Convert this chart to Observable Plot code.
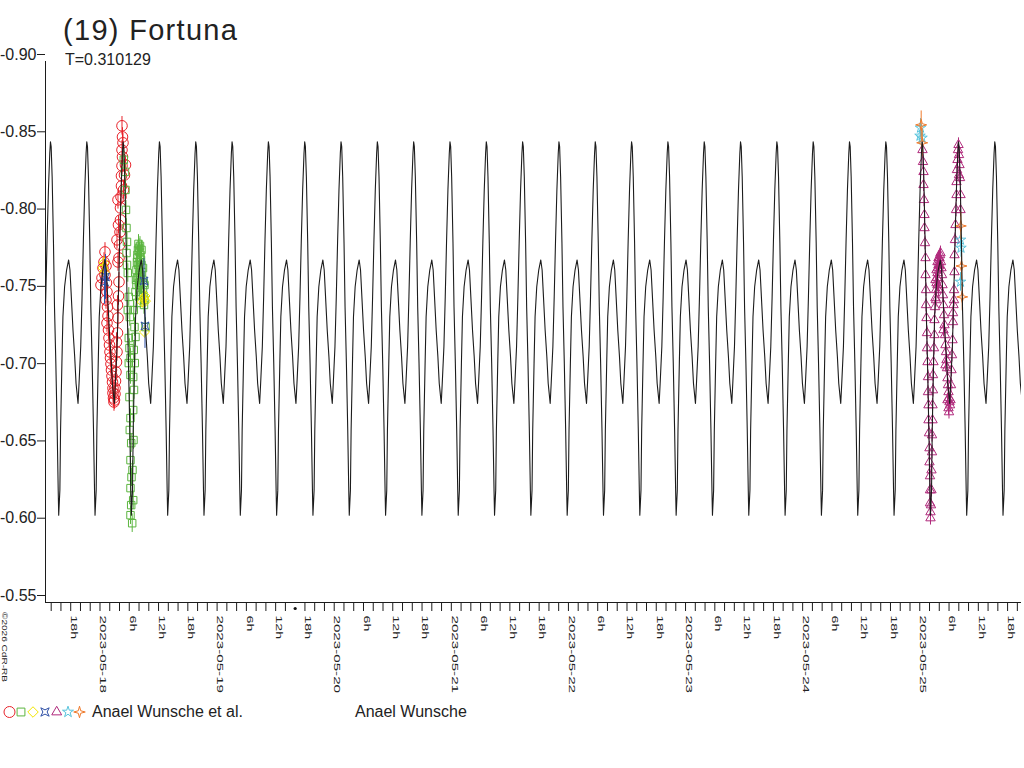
<!DOCTYPE html>
<html>
<head>
<meta charset="utf-8">
<script src="https://cdn.jsdelivr.net/npm/d3@7"></script>
<script src="https://cdn.jsdelivr.net/npm/@observablehq/plot@0.6"></script>
<style>
  body { margin: 0; background: #fff; }
  #chart { position: relative; width: 1024px; height: 768px; overflow: hidden; }
</style>
</head>
<body>
<div id="chart"></div>
<script>
// ---------------- data ----------------
const title = "(19) Fortuna";
const subtitle = "T=0.310129";
const periodDays = 0.310129;
const epochMax = "2023-05-20T23:43:30Z";     // a main maximum of the model curve
const timeOrigin = "2023-05-18T00:00:00Z";   // observation times are hours after this
const xStart = "2023-05-17T12:50:00Z";
const xEnd = "2023-05-25T20:51:00Z";
const yTicks = [-0.90, -0.85, -0.80, -0.75, -0.70, -0.65, -0.60, -0.55];
const markerTime = "2023-05-19T16:00:00Z";
const legendLabel1 = "Anael Wunsche et al.";
const legendLabel2 = "Anael Wunsche";
const copyright = "©2026 CdR-RB";

// one rotation period of the model light curve (phase 0 = main maximum)
const modelPhase = [0, 0.019, 0.046, 0.083, 0.111, 0.148, 0.185, 0.213, 0.227, 0.259, 0.278, 0.315, 0.343, 0.389,
  0.444, 0.5, 0.537, 0.574, 0.62, 0.667, 0.704, 0.759, 0.787, 0.833, 0.87, 0.907, 0.944, 0.981];
const modelMag = [-0.848, -0.845, -0.8256, -0.7824, -0.7414, -0.7047, -0.6616, -0.6227, -0.6065, -0.6227, -0.6616,
  -0.7047, -0.7349, -0.7543, -0.7651, -0.7716, -0.7651, -0.7479, -0.7263, -0.709, -0.6918, -0.6788, -0.6918,
  -0.7155, -0.7479, -0.7848, -0.8172, -0.8407];

// observations: [hours after timeOrigin, relative magnitude]
const obsRed = [[0.205,-0.7554],[0.410,-0.7600],[0.615,-0.7664],[0.820,-0.7703],[1.025,-0.7768],[1.230,-0.7677],
  [1.025,-0.7619],[1.332,-0.7567],[1.435,-0.7509],[1.230,-0.7457],[1.537,-0.7412],[1.640,-0.7354],[1.435,-0.7308],
  [1.742,-0.7263],[1.844,-0.7211],[1.947,-0.7166],[2.049,-0.7121],[2.152,-0.7082],[2.254,-0.7043],[2.357,-0.7004],
  [2.459,-0.6965],[2.562,-0.6926],[2.664,-0.6887],[2.664,-0.6855],[2.767,-0.6823],[2.869,-0.6797],[2.972,-0.6810],
  [3.074,-0.6849],[3.074,-0.6887],[3.177,-0.6933],[3.279,-0.6991],[3.382,-0.7056],[3.484,-0.7121],[3.382,-0.7185],
  [3.586,-0.7244],[3.689,-0.7341],[3.586,-0.7425],[3.791,-0.7483],[3.894,-0.7574],[3.689,-0.7703],[3.894,-0.7729],
  [3.996,-0.7813],[4.099,-0.7897],[4.201,-0.7975],[4.201,-0.8053],[4.304,-0.8124],[4.406,-0.8195],[4.406,-0.8260],
  [4.509,-0.8325],[4.611,-0.8383],[4.509,-0.8428],[4.713,-0.8474],[4.611,-0.8512],[4.509,-0.8584],
  [3.689,-0.8105],[4.816,-0.8169],[3.791,-0.7943],[5.021,-0.8266],[3.484,-0.7846],[5.226,-0.8331]];
const obsGreen = [[4.878,-0.8364],[5.124,-0.8286],[5.226,-0.8169],[5.328,-0.8040],[5.431,-0.7923],[5.533,-0.7833],
  [5.431,-0.7761],[5.533,-0.7684],[5.697,-0.7632],[5.902,-0.7477],[5.697,-0.7392],[6.107,-0.7347],[5.902,-0.7211],
  [6.046,-0.7146],[6.251,-0.7082],[5.902,-0.7049],[6.251,-0.6972],[6.046,-0.6829],[6.251,-0.6693],[6.107,-0.6616],
  [6.394,-0.6531],[6.251,-0.6421],[6.456,-0.6311],[6.251,-0.6240],[6.394,-0.6130],[6.251,-0.6065],[6.599,-0.6013],
  [6.804,-0.6162],[6.661,-0.6357],[6.865,-0.6551],[6.804,-0.6745],[6.968,-0.6875],[6.804,-0.6959],[7.132,-0.7049],
  [6.927,-0.7134],[7.275,-0.7218],[7.070,-0.7282],[6.927,-0.7392],[7.275,-0.7509],
  [7.378,-0.7587],[7.480,-0.7651],[7.583,-0.7703],[7.685,-0.7749],[7.788,-0.7781],[7.890,-0.7820],[7.993,-0.7794],
  [8.095,-0.7768],[8.198,-0.7807],[8.300,-0.7749],[8.403,-0.7716],[8.505,-0.7684],[8.095,-0.7703],[7.788,-0.7684],
  [8.607,-0.7638],[8.710,-0.7587],[8.812,-0.7522],[8.915,-0.7483],[8.300,-0.7619],[7.890,-0.7600],[9.017,-0.7425],
  [9.120,-0.7457],[7.480,-0.7554],[8.505,-0.7489],[9.325,-0.7282],[7.952,-0.7567],[8.976,-0.7567],[7.624,-0.7438],
  [7.685,-0.7729],[8.198,-0.7729],[8.505,-0.7781],[8.812,-0.7664],[9.120,-0.7554],[8.300,-0.7554],[7.993,-0.7651],
  [7.583,-0.7600]];
const obsYellow = [[0.820,-0.7697],[0.615,-0.7664],[0.922,-0.7638],
  [8.976,-0.7470],[8.648,-0.7444],[9.325,-0.7450],[9.120,-0.7250],[9.222,-0.7483]];
const obsBlue = [[1.127,-0.7606],[0.922,-0.7574],[9.017,-0.7580],[9.222,-0.7289]];
const obsMagenta = [[168.56,-0.8428],[168.66,-0.8351],[168.77,-0.8286],[168.77,-0.8202],[168.87,-0.8105],
  [168.97,-0.8008],[168.97,-0.7923],[169.07,-0.7826],[169.18,-0.7729],[169.18,-0.7619],[169.28,-0.7522],
  [169.28,-0.7425],[169.38,-0.7341],[169.48,-0.7244],[169.48,-0.7146],[169.59,-0.7056],[169.69,-0.6959],
  [169.69,-0.6862],[169.79,-0.6777],[169.79,-0.6680],[169.89,-0.6596],[169.99,-0.6499],[169.99,-0.6408],
  [170.10,-0.6318],[170.10,-0.6227],[170.10,-0.6143],[170.20,-0.6085],[170.20,-0.6046],
  [170.30,-0.6130],[170.40,-0.6227],[170.40,-0.6356],[170.51,-0.6473],[170.51,-0.6583],[170.61,-0.6680],
  [170.61,-0.6777],[170.71,-0.6874],[170.71,-0.6972],[170.81,-0.7056],[170.92,-0.7146],[171.02,-0.7231],
  [171.02,-0.7328],[171.12,-0.7412],[171.22,-0.7470],[171.33,-0.7522],[171.43,-0.7567],[171.53,-0.7600],
  [171.63,-0.7632],[171.74,-0.7664],[171.84,-0.7684],[171.94,-0.7703],[172.04,-0.7729],[172.15,-0.7748],
  [172.25,-0.7761],[171.22,-0.7587],[171.43,-0.7651],[171.63,-0.7703],[171.84,-0.7729],[172.04,-0.7677],
  [172.35,-0.7703],[171.63,-0.7554],[171.33,-0.7457],[171.84,-0.7522],
  [172.45,-0.7664],[172.56,-0.7619],[172.66,-0.7554],[172.76,-0.7489],[172.86,-0.7425],[172.97,-0.7360],
  [173.07,-0.7295],[173.17,-0.7231],[173.27,-0.7166],[173.38,-0.7121],[173.48,-0.7069],[173.58,-0.7017],
  [173.68,-0.6952],[173.79,-0.6907],[173.89,-0.6862],[173.99,-0.6823],[174.09,-0.6797],[174.20,-0.6777],
  [173.89,-0.6758],[174.30,-0.6810],[172.86,-0.7263],[173.27,-0.7036],[173.68,-0.6810],[173.99,-0.6732],
  [174.40,-0.6907],[174.50,-0.7004],[174.61,-0.7101],[174.71,-0.7198],[174.81,-0.7315],[174.91,-0.7425],
  [175.02,-0.7522],[175.12,-0.7638],[175.12,-0.7748],[175.22,-0.7846],[175.32,-0.7943],[175.43,-0.8040],
  [175.53,-0.8137],[175.53,-0.8221],[175.63,-0.8299],[175.73,-0.8364],[175.84,-0.8428],[175.94,-0.8461],
  [174.81,-0.7373],[175.02,-0.7457],
  [176.04,-0.8396],[176.14,-0.8331],[176.25,-0.8247],[176.35,-0.8137],[176.35,-0.8040],[176.04,-0.8266]];
const obsCyan = [[168.15,-0.8571],[168.05,-0.8519],[168.46,-0.8506],[176.35,-0.7846],[176.45,-0.7794],[176.35,-0.7574]];
const obsOrange = [[168.29,-0.8590],[168.50,-0.8474],[176.41,-0.7936],[176.55,-0.7677],[176.70,-0.7477]];
// typical error bar (mag) for each series
const errRed = 0.006, errGreen = 0.006, errYellow = 0.004, errBlue = 0.0145,
      errMagenta = 0.0045, errCyan = 0.006, errOrange = 0.009;

// ---------------- symbols ----------------
const star4 = { draw(ctx, size) {
  const R = Math.sqrt(size / Math.PI), q = R * 0.3 * Math.SQRT1_2;
  ctx.moveTo(0, -R); ctx.lineTo(q, -q); ctx.lineTo(R, 0); ctx.lineTo(q, q);
  ctx.lineTo(0, R); ctx.lineTo(-q, q); ctx.lineTo(-R, 0); ctx.lineTo(-q, -q); ctx.closePath();
}};
const bowtie = { draw(ctx, size) {
  const h = Math.sqrt(size / Math.PI) * 0.8, i = h * 0.5;
  ctx.moveTo(-h, -h); ctx.lineTo(0, -i); ctx.lineTo(h, -h); ctx.lineTo(i, 0);
  ctx.lineTo(h, h); ctx.lineTo(0, i); ctx.lineTo(-h, h); ctx.lineTo(-i, 0); ctx.closePath();
}};

const seriesStyle = [
  {data: obsRed, err: errRed, color: "#e8232b", symbol: "circle", r: 5.3},
  {data: obsGreen, err: errGreen, color: "#5bb53f", symbol: "square", r: 4.2},
  {data: obsYellow, err: errYellow, color: "#f2e600", symbol: "diamond2", r: 4.5},
  {data: obsBlue, err: errBlue, color: "#2d4fa6", symbol: bowtie, r: 5},
  {data: obsMagenta, err: errMagenta, color: "#b02a7c", symbol: "triangle", r: 3.5},
  {data: obsCyan, err: errCyan, color: "#56c3dc", symbol: "star", r: 3.3},
  {data: obsOrange, err: errOrange, color: "#ef7a2b", symbol: star4, r: 5.5}
];

// ---------------- build ----------------
const t0 = new Date(timeOrigin).getTime();
const toRows = (arr, err) => arr.map(([h, v]) => ({t: new Date(t0 + h * 3600000), v, err}));

const ep = new Date(epochMax).getTime();
const dMin = new Date(xStart), dMax = new Date(xEnd);
const model = [];
for (let k = -13; k <= 17; k++) {
  modelPhase.forEach((p, i) => model.push({t: new Date(ep + (k + p) * periodDays * 86400000), v: modelMag[i]}));
}

const excluded = new Date(markerTime).getTime();
const minorTicks = d3.utcHour.every(2).range(dMin, dMax).filter(d => d.getTime() !== excluded);
const labelTicks = d3.utcHour.every(6).range(dMin, dMax);
const fmtX = d => d.getUTCHours() === 0 ? d3.utcFormat("%Y-%m-%d")(d) : d.getUTCHours() + "h";

const marks = [];
for (const s of seriesStyle) {
  const rows = toRows(s.data, s.err);
  marks.push(Plot.ruleX(rows, {x: "t", y1: d => d.v - d.err, y2: d => d.v + d.err, stroke: s.color, strokeWidth: 1}));
  marks.push(Plot.dot(rows, {x: "t", y: "v", symbol: s.symbol, r: s.r, stroke: s.color, fill: "none", strokeWidth: 1}));
}
marks.push(Plot.line(model, {x: "t", y: "v", stroke: "#1c1c1c", strokeWidth: 1.1, clip: true}));
marks.push(Plot.ruleX([dMin], {stroke: "#1c1c1c"}));
marks.push(Plot.ruleY([-0.55], {stroke: "#1c1c1c"}));
marks.push(Plot.axisY(yTicks, {tickSize: 8, tickPadding: 1, dy: -7, tickFormat: d => d.toFixed(2), label: null, stroke: "#1c1c1c"}));
marks.push(Plot.axisX(minorTicks, {tickSize: 9, tickFormat: () => "", label: null, stroke: "#1c1c1c"}));
marks.push(Plot.text(labelTicks, {x: d => d, text: fmtX, frameAnchor: "bottom", rotate: 90, textAnchor: "start",
  lineAnchor: "middle", dx: 3, dy: 13, fontSize: 8.5, fill: "#222"}));
marks.push(Plot.dot([new Date(markerTime)], {x: d => d, frameAnchor: "bottom", dy: 6, r: 1.6, fill: "#111", stroke: "none"}));

const svg = Plot.plot({
  width: 1024, height: 768,
  marginLeft: 45, marginRight: 3, marginTop: 61, marginBottom: 166,
  x: {type: "utc", domain: [dMin, dMax]},
  y: {domain: [-0.55, -0.90]},
  style: {fontFamily: "'Liberation Sans', Arial, sans-serif", fontSize: "16px", color: "#222", background: "#fff", overflow: "visible"},
  marks
});
document.getElementById("chart").appendChild(svg);

// stretch the small rotated tick labels like the reference
d3.select(svg).selectAll("text").each(function () {
  const s = this.textContent;
  if (/^\d{1,2}h$/.test(s) || /^\d{4}-\d{2}-\d{2}$/.test(s)) {
    d3.select(this).attr("textLength", 7.7 * s.length + 0.5).attr("lengthAdjust", "spacingAndGlyphs");
  }
});

// ---------------- title, subtitle, legend, copyright ----------------
const g = d3.select(svg).append("g")
  .attr("font-family", "'Liberation Sans', Arial, sans-serif")
  .attr("text-anchor", "start").attr("fill", "#222");
g.append("text").attr("x", 63).attr("y", 40).attr("font-size", 29).attr("letter-spacing", 1.3).text(title);
g.append("text").attr("x", 65).attr("y", 64.5).attr("font-size", 16).text(subtitle);

const legendX = [9.5, 21, 33, 45, 56.7, 68, 79.5];
seriesStyle.forEach((s, i) => {
  const symType = typeof s.symbol === "string"
    ? {circle: d3.symbolCircle, square: d3.symbolSquare, diamond2: d3.symbolDiamond2, triangle: d3.symbolTriangle, star: d3.symbolStar}[s.symbol]
    : s.symbol;
  const rr = i === 0 ? 5.5 : s.r * 1.05;
  g.append("path").attr("d", d3.symbol(symType, rr * rr * Math.PI)())
    .attr("transform", `translate(${legendX[i]},712)`)
    .attr("fill", "none").attr("stroke", s.color).attr("stroke-width", 1);
});
g.append("text").attr("x", 92).attr("y", 717).attr("font-size", 16).text(legendLabel1);
g.append("text").attr("x", 355).attr("y", 717).attr("font-size", 16).text(legendLabel2);
g.append("text").attr("transform", "translate(1.5,612) rotate(90)").attr("font-size", 7.5)
  .attr("textLength", 70).attr("lengthAdjust", "spacingAndGlyphs").text(copyright);
</script>
</body>
</html>
